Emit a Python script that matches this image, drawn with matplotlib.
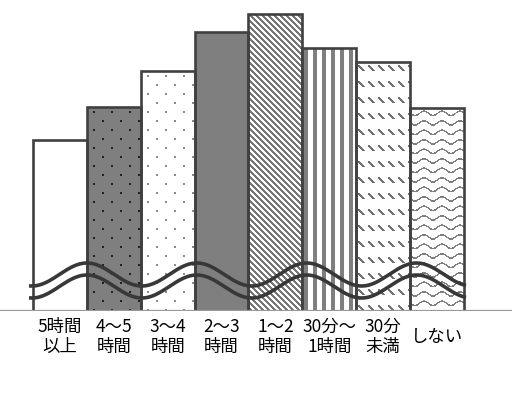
import numpy as np
import matplotlib
matplotlib.use("Agg")
import matplotlib.pyplot as plt

plt.rcParams['font.family'] = ['Noto Sans CJK JP', 'DejaVu Sans']

# ---- data ----
categories = ["5時間\n以上", "4～5\n時間", "3～4\n時間", "2～3\n時間",
              "1～2\n時間", "30分～\n1時間", "30分\n未満", "しない"]
values = [171, 204, 240, 279, 297, 263, 249, 203]
patterns = ["plain", "darkdots", "lightdots", "solid",
            "diag", "vstripes", "dashdiag", "waves"]

W_PX, H_PX, DPI = 512, 396, 100
fig = plt.figure(figsize=(W_PX / DPI, H_PX / DPI), dpi=DPI)
ax = fig.add_axes([0, 85 / H_PX, 1, 311 / H_PX])
ax.set_xlim(-1.1125, 8.391)
ax.set_ylim(0, 311)
ax.axis('off')

x = np.arange(len(values))
EDGE = '#404040'
GRAY = np.array([0.5, 0.5, 0.5])
WHITE = np.array([1.0, 1.0, 1.0])
DARK = np.array([0.13, 0.13, 0.13])

bars = ax.bar(x, values, width=1.0, facecolor='none', edgecolor=EDGE,
              linewidth=1.9, zorder=3)


def texture(kind, H, W):
    yy, xx = np.mgrid[0:H, 0:W]
    img = np.ones((H, W, 3))
    if kind == "plain":
        return img
    if kind == "solid":
        img[:] = GRAY
        return img
    if kind in ("darkdots", "lightdots"):
        bg = GRAY if kind == "darkdots" else WHITE
        dc = DARK if kind == "darkdots" else np.array([0.55, 0.55, 0.55])
        img[:] = bg
        cell = 9
        r = yy - 4
        c = xx - 6
        m = (r % cell < 2) & (c % cell < 2) & (((r // cell) + (c // cell)) % 2 == 0)
        img[m] = dc
        return img
    if kind == "diag":
        m = ((xx - yy) % 6) < 3
        img[m] = np.array([0.47, 0.47, 0.47])
        return img
    if kind == "vstripes":
        m = ((xx - 2) % 9) < 4
        img[m] = GRAY
        return img
    if kind == "dashdiag":
        rowp = 16
        colp = 10
        ry = (yy - 3) % rowp
        cx = (xx - 2) % colp
        m = (ry < 6) & (np.abs(cx - ry) < 1.5)
        img[m] = np.array([0.45, 0.45, 0.45])
        return img
    if kind == "waves":
        rowp = 9.5
        wy = 2.2 * np.sin(2 * np.pi * xx / 18.0)
        d = (yy - 4 - wy) % rowp
        m = (d < 1.7)
        img[m] = np.array([0.5, 0.5, 0.5])
        return img
    return img


fig.canvas.draw()
for b, kind in zip(bars, patterns):
    x0, w, h = b.get_x(), b.get_width(), b.get_height()
    p0 = ax.transData.transform((x0, 0))
    p1 = ax.transData.transform((x0 + w, h))
    Wp = max(int(round(p1[0] - p0[0])), 1)
    Hp = max(int(round(p1[1] - p0[1])), 1)
    img = texture(kind, Hp, Wp)
    ax.imshow(img, extent=(x0, x0 + w, 0, h), interpolation='nearest',
              aspect='auto', zorder=2)

ax.set_xlim(-1.1125, 8.391)
ax.set_ylim(0, 311)

# baseline
ax.axhline(0, color='#999999', linewidth=1.6, zorder=4)

# axis-break wavy lines
break_center, break_amp, break_period, break_peak, break_gap = 36.5, 11.5, 2.04, 0.5, 12
xs = np.linspace(-0.574, 7.537, 400)
upper = break_center + break_amp * np.cos(2 * np.pi * (xs - break_peak) / break_period)
ax.plot(xs, upper, color='#383838', linewidth=2.6, zorder=5, solid_capstyle='butt')
ax.plot(xs, upper - break_gap, color='#383838', linewidth=2.6, zorder=5, solid_capstyle='butt')

# category labels
for xi, lab in zip(x, categories):
    ax.text(xi, -26, lab, ha='center', va='center', multialignment='center',
            fontsize=12.5, color='#000000', linespacing=1.2, clip_on=False)

fig.savefig("out.png", dpi=DPI)
